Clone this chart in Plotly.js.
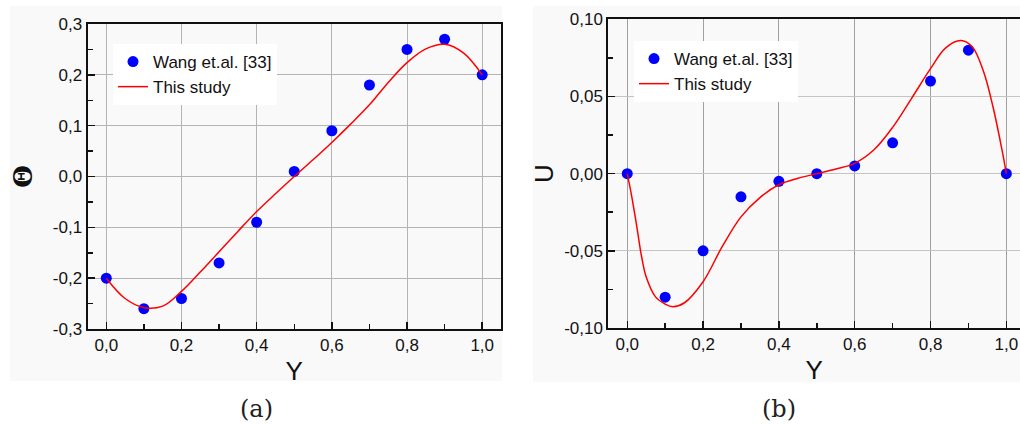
<!DOCTYPE html>
<html>
<head>
<meta charset="utf-8">
<script src="https://cdn.plot.ly/plotly-3.0.1.min.js"></script>
<style>
  html, body { margin: 0; padding: 0; background: #ffffff; overflow: hidden; }
  #chart { width: 1020px; height: 424px; }
</style>
</head>
<body>
<div id="chart"></div>
<script>
// Reference data of Wang et al. [33], sampled at Y = 0, 0.1, ..., 1.0
const yPos = [0, 0.1, 0.2, 0.3, 0.4, 0.5, 0.6, 0.7, 0.8, 0.9, 1.0];
const thetaWang = [-0.20, -0.26, -0.24, -0.17, -0.09, 0.01, 0.09, 0.18, 0.25, 0.27, 0.20];
const uWang = [0.0, -0.08, -0.05, -0.015, -0.005, 0.0, 0.005, 0.02, 0.06, 0.08, 0.0];

// Profiles computed in this study
const thetaY = [0, 0.05, 0.1, 0.15, 0.2, 0.25, 0.3, 0.35, 0.4, 0.45, 0.5,
                0.55, 0.6, 0.65, 0.7, 0.75, 0.8, 0.85, 0.9, 0.95, 1.0];
const thetaStudy = [-0.200, -0.240, -0.258, -0.255, -0.226, -0.188, -0.148, -0.108, -0.069, -0.034, 0.000,
                    0.033, 0.067, 0.103, 0.141, 0.185, 0.224, 0.251, 0.260, 0.243, 0.200];
const uY = [0, 0.012, 0.025, 0.038, 0.05, 0.075, 0.1, 0.12, 0.15, 0.2, 0.25, 0.3, 0.35, 0.4, 0.45,
            0.5, 0.55, 0.6, 0.65, 0.7, 0.75, 0.8, 0.84, 0.88, 0.91, 0.94, 0.965, 0.988, 1.0];
const uStudy = [0.0, -0.015, -0.034, -0.054, -0.067, -0.080, -0.0845, -0.0862, -0.0838, -0.0700, -0.0475,
                -0.028, -0.0155, -0.0072, -0.003, 0.0, 0.003, 0.0067, 0.0153, 0.030, 0.0488,
                0.068, 0.0815, 0.0862, 0.0822, 0.066, 0.043, 0.016, 0.0];

// Tick labels (decimal comma)
const xTickVals = [0, 0.2, 0.4, 0.6, 0.8, 1.0];
const xTickText = ['0,0', '0,2', '0,4', '0,6', '0,8', '1,0'];
const thetaTickVals = [-0.3, -0.2, -0.1, 0, 0.1, 0.2, 0.3];
const thetaTickText = ['-0,3', '-0,2', '-0,1', '0,0', '0,1', '0,2', '0,3'];
const uTickVals = [-0.10, -0.05, 0, 0.05, 0.10];
const uTickText = ['-0,10', '-0,05', '0,00', '0,05', '0,10'];

const seriesNames = ['Wang et.al. [33]', 'This study'];
const panelLabels = ['(a)', '(b)'];

// ---- geometry helpers (pixel -> paper fraction) ----
const W = 1020, H = 424;
const fx = v => v / W;
const fy = v => 1 - v / H;

const INK = '#111111';
const SANS = 'Liberation Sans, Arial, sans-serif';

function axisBase(extra) {
  return Object.assign({
    ticks: 'inside', ticklen: 7, tickwidth: 1.5, tickcolor: INK,
    showline: true, linewidth: 2, linecolor: INK,
    showgrid: true, gridwidth: 1, zeroline: false,
    tickfont: { family: SANS, size: 17, color: INK },
    tickmode: 'array',
    fixedrange: true
  }, extra);
}

const markerStyle = { color: '#0000ff', size: 11, symbol: 'circle' };
const lineStyle = { color: '#ff0000', width: 1.5, shape: 'spline', smoothing: 1 };

const traces = [
  { x: yPos, y: thetaWang, type: 'scatter', mode: 'markers', name: seriesNames[0],
    marker: markerStyle, xaxis: 'x', yaxis: 'y', legend: 'legend' },
  { x: thetaY, y: thetaStudy, type: 'scatter', mode: 'lines', name: seriesNames[1],
    line: lineStyle, xaxis: 'x', yaxis: 'y', legend: 'legend' },
  { x: yPos, y: uWang, type: 'scatter', mode: 'markers', name: seriesNames[0],
    marker: markerStyle, xaxis: 'x2', yaxis: 'y2', legend: 'legend2' },
  { x: uY, y: uStudy, type: 'scatter', mode: 'lines', name: seriesNames[1],
    line: lineStyle, xaxis: 'x2', yaxis: 'y2', legend: 'legend2' }
];

const legendBase = {
  xanchor: 'left', yanchor: 'top', bgcolor: '#ffffff', borderwidth: 0,
  font: { family: SANS, size: 17, color: INK }, itemwidth: 30, tracegroupgap: 0
};

const layout = {
  width: W, height: H,
  margin: { l: 0, r: 0, t: 0, b: 0 },
  paper_bgcolor: '#ffffff',
  plot_bgcolor: '#ffffff',
  showlegend: true,
  font: { family: SANS, color: INK },

  // panel (a): temperature profile
  xaxis: axisBase({
    domain: [fx(87.5), fx(501)], range: [-0.05, 1.05], anchor: 'y',
    tickvals: xTickVals, ticktext: xTickText, mirror: true, gridcolor: '#b4b4b4',
    minor: { ticks: 'inside', ticklen: 5, tickwidth: 1.5, tickcolor: INK,
             tickmode: 'linear', tick0: 0, dtick: 0.1, showgrid: false },
    title: { text: 'Y', font: { family: SANS, size: 26, color: INK }, standoff: 7 }
  }),
  yaxis: axisBase({
    domain: [fy(329), fy(24)], range: [-0.3, 0.3], anchor: 'x',
    tickvals: thetaTickVals, ticktext: thetaTickText, mirror: true, gridcolor: '#b4b4b4',
    minor: { ticks: 'inside', ticklen: 5, tickwidth: 1.5, tickcolor: INK,
             tickmode: 'linear', tick0: 0.05, dtick: 0.1, showgrid: false },
    title: { text: '\u0398', font: { family: 'DejaVu Serif, serif', size: 26, color: INK, weight: 'bold' }, standoff: 13 }
  }),

  // panel (b): velocity profile
  xaxis2: axisBase({
    domain: [fx(608.3), 1], range: [-0.05, 1.036], anchor: 'y2',
    tickvals: xTickVals, ticktext: xTickText, mirror: true, gridcolor: '#a0a0a0',
    minor: { ticks: 'inside', ticklen: 5, tickwidth: 1.5, tickcolor: INK,
             tickmode: 'linear', tick0: 0, dtick: 0.1, showgrid: false },
    title: { text: 'Y', font: { family: SANS, size: 26, color: INK }, standoff: 7 }
  }),
  yaxis2: axisBase({
    domain: [fy(328), fy(19.3)], range: [-0.1, 0.1], anchor: 'x2',
    tickvals: uTickVals, ticktext: uTickText, mirror: false, gridcolor: '#c4c4c4',
    minor: { ticks: 'inside', ticklen: 5, tickwidth: 1.5, tickcolor: INK,
             tickmode: 'linear', tick0: 0.025, dtick: 0.05, showgrid: false },
    title: { text: 'U', font: { family: SANS, size: 26, color: INK }, standoff: 3 }
  }),

  legend: Object.assign({ x: fx(113), y: fy(44) }, legendBase),
  legend2: Object.assign({ x: fx(634), y: fy(41) }, legendBase),

  // light panel backgrounds behind each figure
  shapes: [
    { type: 'rect', xref: 'paper', yref: 'paper', layer: 'below', line: { width: 0 },
      fillcolor: '#f9f9f9', x0: fx(10), x1: fx(502), y0: fy(381), y1: fy(6) },
    { type: 'rect', xref: 'paper', yref: 'paper', layer: 'below', line: { width: 0 },
      fillcolor: '#f9f9f9', x0: fx(533), x1: 1, y0: fy(382), y1: fy(6) }
  ],

  annotations: [
    { text: panelLabels[0], xref: 'paper', yref: 'paper', x: fx(256), y: fy(409),
      xanchor: 'center', yanchor: 'middle', showarrow: false,
      font: { family: 'DejaVu Serif, serif', size: 24, color: '#222222' } },
    { text: panelLabels[1], xref: 'paper', yref: 'paper', x: fx(779), y: fy(409),
      xanchor: 'center', yanchor: 'middle', showarrow: false,
      font: { family: 'DejaVu Serif, serif', size: 24, color: '#222222' } }
  ]
};

Plotly.newPlot('chart', traces, layout, { displayModeBar: false, staticPlot: true });
</script>
</body>
</html>
